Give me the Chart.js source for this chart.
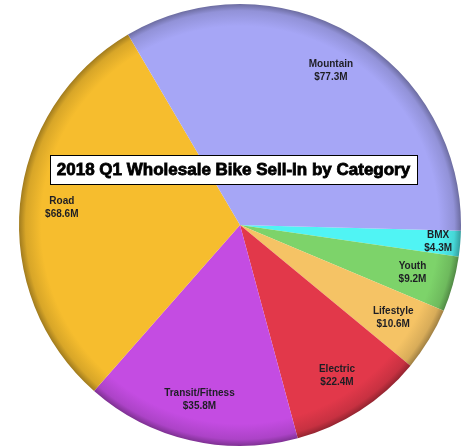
<!DOCTYPE html>
<html>
<head>
<meta charset="utf-8">
<script src="https://cdn.jsdelivr.net/npm/chart.js@4"></script>
<style>
  html, body { margin: 0; padding: 0; background: #fff; }
  #wrap { width: 465px; height: 448px; }
</style>
</head>
<body>
<div id="wrap"><canvas id="pie"></canvas></div>
<script>
// data, clockwise from just below 3 o'clock
const chartTitle = '2018 Q1 Wholesale Bike Sell-In by Category';
const categories = ['BMX', 'Youth', 'Lifestyle', 'Electric', 'Transit/Fitness', 'Road', 'Mountain'];
const sales = [4.3, 9.2, 10.6, 22.4, 35.8, 68.6, 77.3];
const valueLabels = ['$4.3M', '$9.2M', '$10.6M', '$22.4M', '$35.8M', '$68.6M', '$77.3M'];
const sliceColors = ['#50f4f4', '#7dd36a', '#f5c365', '#e2384a', '#c44ce2', '#f6bd2e', '#a6a6f6'];

// darken a hex colour by a factor
function shade(hex, f) {
    const n = parseInt(hex.slice(1), 16);
    const r = Math.round(((n >> 16) & 255) * f);
    const g = Math.round(((n >> 8) & 255) * f);
    const b = Math.round((n & 255) * f);
    return 'rgb(' + r + ',' + g + ',' + b + ')';
}

/**
 * Radial fill so the rim of the pie gets a little darker.
 */
function sliceFill(ctx) {
    const chart = ctx.chart;
    const base = sliceColors[ctx.dataIndex];
    const area = chart.chartArea;
    if (!area) return base;
    const cx = (area.left + area.right) / 2;
    const cy = (area.top + area.bottom) / 2;
    const r = Math.min(area.right - area.left, area.bottom - area.top) / 2;
    const g = chart.ctx.createRadialGradient(cx, cy, 0, cx, cy, r);
    g.addColorStop(0, base);
    g.addColorStop(0.9, base);
    g.addColorStop(0.97, shade(base, 0.88));
    g.addColorStop(1, shade(base, 0.65));
    return g;
}

// labels inside each slice, name + value
const sliceLabels = {
    id: 'sliceLabels',
    afterDatasetsDraw(chart) {
        const ctx = chart.ctx;
        const meta = chart.getDatasetMeta(0);
        ctx.save();
        ctx.font = 'bold 10px "Liberation Sans", Arial, sans-serif';
        ctx.fillStyle = '#1e1e24';
        ctx.textAlign = 'center';
        ctx.textBaseline = 'middle';
        meta.data.forEach((arc, i) => {
            const mid = (arc.startAngle + arc.endAngle) / 2;
            const k = sales[i] < 5 ? 0.9 : 0.81;
            const x = arc.x + Math.cos(mid) * arc.outerRadius * k;
            const y = arc.y + Math.sin(mid) * arc.outerRadius * k;
            ctx.fillText(categories[i], x, y - 6.5);
            ctx.fillText(valueLabels[i], x, y + 6.5);
        });
        ctx.restore();
    }
};

// boxed title drawn over the pie
const titleBox = {
    id: 'titleBox',
    afterDraw(chart) {
        const ctx = chart.ctx;
        ctx.save();
        ctx.fillStyle = '#fff';
        ctx.fillRect(50, 155, 367, 29);
        ctx.strokeStyle = '#000';
        ctx.lineWidth = 1;
        ctx.strokeRect(50.5, 155.5, 367, 29);
        ctx.fillStyle = '#000';
        ctx.font = 'bold 17px "Liberation Sans", Arial, sans-serif';
        ctx.textAlign = 'center';
        ctx.textBaseline = 'middle';
        ctx.lineWidth = 0.8;
        ctx.strokeText(chartTitle, 233.5, 170);
        ctx.fillText(chartTitle, 233.5, 170);
        ctx.restore();
    }
};

const chart = new Chart(document.getElementById('pie'), {
    type: 'pie',
    data: {
        labels: categories,
        datasets: [{
            data: sales,
            backgroundColor: sliceFill,
            borderWidth: 0
        }]
    },
    options: {
        responsive: true,
        maintainAspectRatio: false,
        animation: false,
        rotation: 91.5,
        layout: { padding: { left: 19, right: 4, top: 4, bottom: 2 } },
        plugins: {
            legend: { display: false },
            tooltip: { enabled: false }
        }
    },
    plugins: [sliceLabels, titleBox]
});
</script>
</body>
</html>
